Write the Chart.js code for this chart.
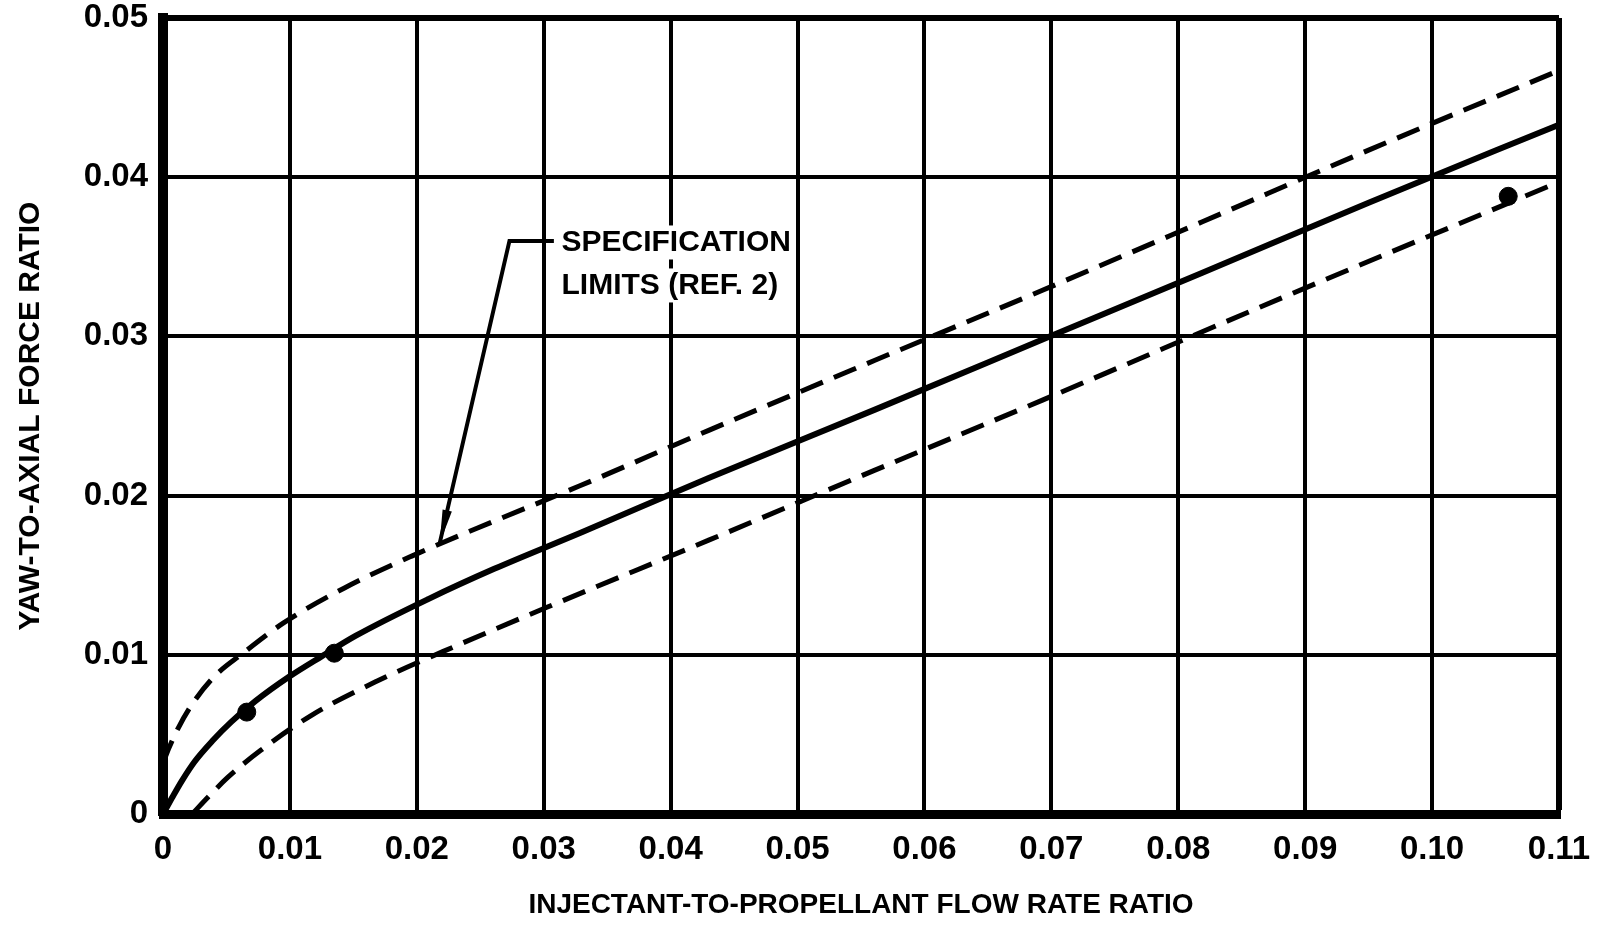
<!DOCTYPE html>
<html>
<head>
<meta charset="utf-8">
<script src="https://cdn.jsdelivr.net/npm/chart.js@4.4.1/dist/chart.umd.min.js"></script>
<style>
  html, body { margin: 0; padding: 0; background: #fff; }
  #wrap { width: 1600px; height: 928px; }
</style>
</head>
<body>
<div id="wrap"><canvas id="myChart" width="1600" height="928"></canvas></div>
<script>
// axis ticks
const xTickValues = [0, 0.01, 0.02, 0.03, 0.04, 0.05, 0.06, 0.07, 0.08, 0.09, 0.10, 0.11];
const xTickLabels = ['0', '0.01', '0.02', '0.03', '0.04', '0.05', '0.06', '0.07', '0.08', '0.09', '0.10', '0.11'];
const yTickValues = [0, 0.01, 0.02, 0.03, 0.04, 0.05];
const yTickLabels = ['0', '0.01', '0.02', '0.03', '0.04', '0.05'];

// mean curve (solid)
const meanX = [0, 0.0007, 0.0015, 0.0025, 0.0039, 0.0054, 0.0073, 0.0099, 0.0125, 0.0152, 0.0209, 0.0261, 0.033, 0.043, 0.0561, 0.0693, 0.0819, 0.095, 0.11];
const meanY = [0, 0.0010, 0.0021, 0.0033, 0.0046, 0.0058, 0.0071, 0.0086, 0.0099, 0.0112, 0.0135, 0.0154, 0.0177, 0.0211, 0.0254, 0.0298, 0.034, 0.0384, 0.0433];

// specification limits (dashed)
const upperX = [0, 0.0005, 0.0012, 0.0023, 0.004, 0.0063, 0.0095, 0.0143, 0.0196, 0.0261, 0.0328, 0.043, 0.0561, 0.0693, 0.0819, 0.095, 0.11];
const upperY = [0.0032, 0.0042, 0.0054, 0.0069, 0.0086, 0.0101, 0.012, 0.0142, 0.0162, 0.0184, 0.0206, 0.0241, 0.0285, 0.0329, 0.0372, 0.0417, 0.0467];
const lowerX = [0.0023, 0.0036, 0.0051, 0.0077, 0.0117, 0.017, 0.0235, 0.0306, 0.043, 0.0561, 0.0693, 0.0884, 0.11];
const lowerY = [0, 0.0011, 0.0023, 0.004, 0.0062, 0.0084, 0.0107, 0.0131, 0.0172, 0.0216, 0.026, 0.0325, 0.0397];

// test points
const testX = [0.0066, 0.0135, 0.106];
const testY = [0.0064, 0.0101, 0.0388];

// callout text and leader (data units)
const noteLines = ['SPECIFICATION', 'LIMITS (REF. 2)'];
const noteX = 0.0314;
const noteY = [0.0359, 0.0332];
const leaderX = [0.0308, 0.0273, 0.0218];
const leaderY = [0.036, 0.036, 0.017];

const FONT = '"Liberation Sans", Arial, sans-serif';

function pairs(xs, ys) {
    var out = [];
    for (var i = 0; i < xs.length; i++) {
        out.push({ x: xs[i], y: ys[i] });
    }
    return out;
}

const notePlugin = {
    id: 'note',
    afterDatasetsDraw(chart) {
        const c = chart.ctx;
        const xs = chart.scales.x, ys = chart.scales.y;
        c.save();
        c.font = 'bold 30px ' + FONT;
        c.textBaseline = 'middle';
        c.textAlign = 'left';
        // white behind the text so grid lines break there
        for (var i = 0; i < noteLines.length; i++) {
            const px = xs.getPixelForValue(noteX);
            const py = ys.getPixelForValue(noteY[i]);
            const w = c.measureText(noteLines[i]).width;
            c.fillStyle = '#fff';
            c.fillRect(px - 4, py - 17, w + 8, 34);
            c.fillStyle = '#000';
            c.fillText(noteLines[i], px, py);
        }
        // leader line with arrow
        c.strokeStyle = '#000';
        c.lineWidth = 4;
        c.beginPath();
        for (var j = 0; j < leaderX.length; j++) {
            const px = xs.getPixelForValue(leaderX[j]);
            const py = ys.getPixelForValue(leaderY[j]);
            if (j === 0) c.moveTo(px, py); else c.lineTo(px, py);
        }
        c.stroke();
        const n = leaderX.length;
        const tx = xs.getPixelForValue(leaderX[n - 1]), ty = ys.getPixelForValue(leaderY[n - 1]);
        const fx = xs.getPixelForValue(leaderX[n - 2]), fy = ys.getPixelForValue(leaderY[n - 2]);
        const ang = Math.atan2(ty - fy, tx - fx);
        c.fillStyle = '#000';
        c.beginPath();
        c.moveTo(tx, ty);
        c.lineTo(tx - 34 * Math.cos(ang - 0.14), ty - 34 * Math.sin(ang - 0.14));
        c.lineTo(tx - 34 * Math.cos(ang + 0.14), ty - 34 * Math.sin(ang + 0.14));
        c.closePath();
        c.fill();
        c.restore();
    }
};

const ctx = document.getElementById('myChart');

new Chart(ctx, {
    type: 'scatter',
    data: {
        datasets: [
            {
                label: 'mean',
                data: pairs(meanX, meanY),
                showLine: true,
                borderColor: '#000',
                borderWidth: 6,
                pointRadius: 0,
                cubicInterpolationMode: 'monotone'
            },
            {
                label: 'upper limit',
                data: pairs(upperX, upperY),
                showLine: true,
                borderColor: '#000',
                borderWidth: 5,
                borderDash: [24, 12],
                pointRadius: 0,
                cubicInterpolationMode: 'monotone'
            },
            {
                label: 'lower limit',
                data: pairs(lowerX, lowerY),
                showLine: true,
                borderColor: '#000',
                borderWidth: 5,
                borderDash: [24, 12],
                pointRadius: 0,
                cubicInterpolationMode: 'monotone'
            },
            {
                label: 'test data',
                data: pairs(testX, testY),
                showLine: false,
                pointRadius: 9,
                pointBackgroundColor: '#000',
                pointBorderColor: '#000'
            }
        ]
    },
    options: {
        responsive: false,
        animation: false,
        layout: {
            padding: { left: 0, top: 18, right: 41, bottom: 0 }
        },
        plugins: {
            legend: { display: false },
            tooltip: { enabled: false }
        },
        scales: {
            x: {
                type: 'linear',
                min: 0,
                max: 0.11,
                afterBuildTicks: function (scale) {
                    scale.ticks = xTickValues.map(v => ({ value: v }));
                },
                afterFit: function (scale) {
                    scale.height = 114;
                    scale.paddingLeft = 0;
                    scale.paddingRight = 0;
                },
                grid: {
                    color: '#000',
                    lineWidth: (c) => c.index === xTickValues.length - 1 ? 6 : 4,
                    drawTicks: false
                },
                border: { color: '#000', width: 9 },
                ticks: {
                    color: '#000',
                    padding: 16,
                    maxRotation: 0,
                    font: { family: FONT, size: 33, weight: 'bold' },
                    callback: (v, i) => xTickLabels[i]
                },
                title: {
                    display: true,
                    text: 'INJECTANT-TO-PROPELLANT FLOW RATE RATIO',
                    color: '#000',
                    font: { family: FONT, size: 28, weight: 'bold' },
                    padding: { top: 12, bottom: 6 }
                }
            },
            y: {
                type: 'linear',
                min: 0,
                max: 0.05,
                afterBuildTicks: function (scale) {
                    scale.ticks = yTickValues.map(v => ({ value: v }));
                },
                afterFit: function (scale) {
                    scale.width = 163;
                    scale.paddingTop = 0;
                    scale.paddingBottom = 0;
                },
                grid: {
                    color: '#000',
                    lineWidth: (c) => c.index === yTickValues.length - 1 ? 6 : 4,
                    drawTicks: false
                },
                border: { color: '#000', width: 10 },
                ticks: {
                    color: '#000',
                    padding: 15,
                    font: { family: FONT, size: 33, weight: 'bold' },
                    callback: (v, i) => yTickLabels[i]
                },
                title: {
                    display: true,
                    text: 'YAW-TO-AXIAL FORCE RATIO',
                    color: '#000',
                    font: { family: FONT, size: 30, weight: 'bold' },
                    padding: { top: 13, bottom: 0 }
                }
            }
        }
    },
    plugins: [notePlugin]
});
</script>
</body>
</html>
